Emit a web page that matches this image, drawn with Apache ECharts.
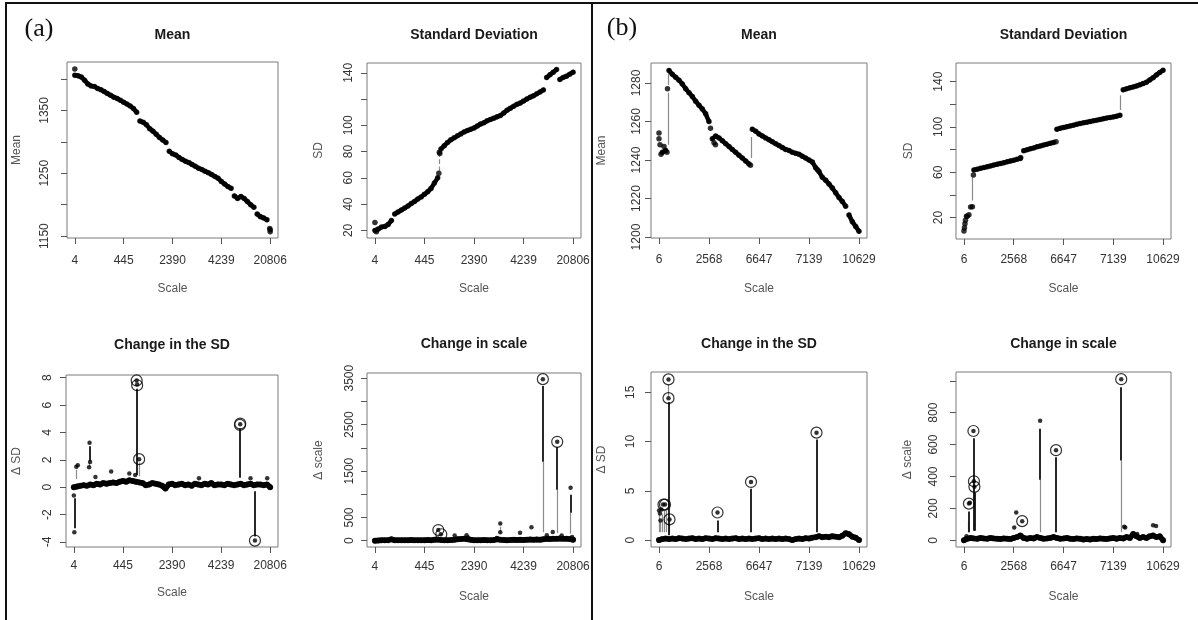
<!DOCTYPE html>
<html><head><meta charset="utf-8">
<script src="https://cdn.jsdelivr.net/npm/echarts@6/dist/echarts.min.js"></script>
<style>html,body{margin:0;padding:0;background:#fff}#c{width:1198px;height:620px}</style>
</head><body><div id="c"></div>
<script>
// ---------- tick labels ----------
const xTicksA = ['4','445','2390','4239','20806'];
const xTicksB = ['6','2568','6647','7139','10629'];
const yTicksMeanA = [1150,1200,1250,1300,1350,1400], yLabMeanA = [1150,1250,1350];
const yTicksSdA = [20,40,60,80,100,120,140], yLabSdA = [20,40,60,80,100,140];
const yTicksDSdA = [-4,-2,0,2,4,6,8], yLabDSdA = [-4,-2,0,2,4,6,8];
const yTicksDScA = [0,500,1000,1500,2000,2500,3000,3500], yLabDScA = [0,500,1500,2500,3500];
const yTicksMeanB = [1200,1220,1240,1260,1280], yLabMeanB = [1200,1220,1240,1260,1280];
const yTicksSdB = [20,40,60,80,100,120,140], yLabSdB = [20,60,100,140];
const yTicksDSdB = [0,5,10,15], yLabDSdB = [0,5,10,15];
const yTicksDScB = [0,200,400,600,800,1000], yLabDScB = [0,200,400,600,800];

// ---------- (a) data ----------
const meanA = [1406,1405,1403,1398,1392,1389,1388,1385,1383,1380,
 1377,1374,1371,1369,1366,1363,1360,1357,1353,1347,
 1333,1331,1327,1321,1317,1312,1307,1303,1299,1285,
 1281,1279,1275,1272,1269,1267,1264,1261,1258,1256,
 1253,1251,1248,1245,1242,1237,1233,1229,1226,1214,
 1210,1213,1210,1205,1200,1196,1185,1181,1179,1176,1160];
const meanAExtra = [[0,1416],[3.99,1162],[4,1157]];

const sdA = [20,21,22.5,23,24.5,27.5,32.5,34,35.5,37,
 38.5,40.5,42,44,45.5,47.5,49.5,52,56,60,
 82,84.5,87,89,90.5,92,93.5,95,96,97,
 98,99.5,101,102,103.5,104.5,105.5,106.5,107.5,109.5,
 111.5,113,114.5,116,117,118.5,120,121.5,122.5,124,
 125.5,127,136.5,138.5,140.5,142.5,135,136.5,137.5,139,140.5];
const sdAExtra = [[0,26],[0.03,19],[1.29,63.5],[1.3,79.5],[1.31,78.5]];
const sdAGap = [[1.3,65,77]];

const dSdABase = [0,0.05,0.1,0.15,0.1,0.2,0.15,0.25,0.2,0.3,
 0.25,0.3,0.35,0.3,0.4,0.45,0.4,0.5,0.45,0.4,
 0.35,0.3,0.15,0.2,0.3,0.25,0.2,0.1,-0.1,0.2,
 0.25,0.15,0.2,0.25,0.15,0.2,0.1,0.25,0.2,0.15,
 0.25,0.2,0.3,0.15,0.2,0.2,0.15,0.25,0.2,0.15,
 0.2,0.25,0.15,0.2,0.25,0.15,0.2,0.2,0.15,0.2,0];
const dSdAPts = [[0,-0.6],[0.01,-3.3],[0.05,1.5],[0.08,1.6],[0.31,1.45],[0.32,3.25],[0.33,1.85],
 [0.44,0.75],[0.76,1.15],[1.13,1.0],[1.25,0.9],[1.28,7.8],[1.29,7.5],[1.33,2.05],[2.55,0.65],
 [3.39,4.6],[3.6,0.65],[3.69,-3.9],[3.94,0.65]];
const dSdACirc = [[1.28,7.8],[1.29,7.45],[1.33,2.05],[3.39,4.65],[3.385,4.55],[3.69,-3.9]];
const dSdAStem = [[0.01,-0.8,-3.0],[0.32,1.9,3.0],[1.285,0.9,7.2],[3.39,0.7,4.3],[3.69,-0.3,-3.6]];
const dSdAFaint = [[0.05,0.6,1.3],[0.32,1.5,1.8],[1.33,0.8,1.8]];

const dScA = [0,5,10,8,12,30,10,8,12,10,
 8,15,10,12,8,10,15,12,20,25,
 15,10,12,15,20,30,35,45,30,20,
 10,12,10,15,12,10,15,30,20,15,
 10,15,20,15,20,15,20,25,20,25,
 20,30,40,35,45,40,50,40,45,35,20];
const dScAPts = [[1.28,230],[1.33,140],[1.61,110],[1.85,120],[1.88,70],[2.46,60],[2.53,370],[2.53,185],
 [2.93,170],[3.16,290],[3.39,3480],[3.47,120],[3.59,190],[3.68,2130],[3.77,110],[3.95,1140],[3.98,80]];
const dScACirc = [[1.28,230],[1.34,140],[3.39,3480],[3.68,2130]];
const dScAStem = [[3.39,1700,3330],[3.68,1100,2020],[3.95,600,990]];
const dScAFaint = [[3.39,180,1700],[3.68,160,1100],[3.95,150,600],[2.53,160,300]];

// ---------- (b) data ----------
const meanB = [1251,1244,1245,1286.5,1284.5,1283,1281.5,1279.5,1277,1275,
 1273,1270.5,1268.5,1266.5,1264,1260,1251,1252.5,1251.5,1250,
 1248.5,1247,1245.5,1244,1242.5,1241,1239.5,1238,1256,1255,
 1253.5,1252.5,1251.5,1250.5,1249.5,1248.5,1247.5,1246.5,1245.5,1245,
 1244,1243.5,1243,1242,1241,1240,1239,1236,1234,1231,
 1229.5,1227.5,1225.5,1223,1220.5,1218.5,1216,1211.5,1208,1205.5,1203];
const meanBExtra = [[0,1254],[0.02,1248],[0.04,1243],[0.1,1247],[0.16,1244],[0.17,1277],
 [1.03,1256.5],[1.1,1249],[1.13,1248],[1.83,1237.3],[3.17,1235]];
const meanBGap = [[0.175,1248,1275],[0.185,1279,1285],[1.85,1241,1252]];

const sdB = [8,21,29.2,62,62.7,63.4,64.1,64.8,65.6,66.3,
 67,67.7,68.4,69.2,69.9,70.6,71.4,72.2,79,79.8,
 80.7,81.5,82.4,83.2,84,84.8,85.5,86.3,98,98.8,
 99.5,100.2,100.9,101.6,102.3,103,103.6,104.2,104.8,105.4,
 106,106.6,107.2,107.8,108.3,108.9,109.5,110.3,132.8,133.7,
 134.6,135.4,136.2,137.2,138.3,139.5,141.5,143.5,146,148.2,150];
const sdBExtra = [[0.01,11],[0.02,14.5],[0.03,17.5],[0.05,21],[0.1,22.5],[0.17,29.5],[0.19,57.5],[1.14,73],[1.85,87]];
const sdBGap = [[0.17,35,56],[3.14,115,128]];

const dSdB = [0,0.1,0.15,0.1,0.15,0.1,0.2,0.15,0.1,0.15,
 0.2,0.1,0.15,0.1,0.2,0.15,0.1,0.2,0.15,0.1,
 0.15,0.1,0.15,0.2,0.1,0.15,0.1,0.15,0.1,0.15,
 0.2,0.1,0.15,0.1,0.15,0.1,0.15,0.1,0.15,0.1,
 0,0.1,0.15,0.1,0.2,0.15,0.25,0.3,0.4,0.3,
 0.35,0.3,0.4,0.35,0.3,0.45,0.7,0.6,0.35,0.25,0];
const dSdBPts = [[0,3.0],[0.02,2.7],[0.03,2.0],[0.05,3.1],[0.08,3.6],[0.12,3.6],[0.19,16.3],[0.19,14.4],
 [0.21,2.1],[1.17,2.8],[1.84,5.9],[3.15,10.9]];
const dSdBCirc = [[0.09,3.6],[0.12,3.6],[0.19,16.3],[0.19,14.4],[0.21,2.1],[1.17,2.8],[1.84,5.9],[3.15,10.9]];
const dSdBStem = [[0.19,0.5,14.0],[1.17,0.8,2.0],[1.84,0.8,5.2],[3.15,0.8,10.2]];
const dSdBFaint = [[0.0,0.8,2.6],[0.03,0.8,1.8],[0.06,0.8,2.6],[0.1,0.8,3.0],[0.14,0.8,3.0],[0.21,0.8,1.8],[0.19,14.6,15.8]];

const dScB = [0,10,15,12,10,15,12,10,15,12,
 10,8,12,10,8,15,20,30,15,10,
 15,12,20,15,10,12,15,20,15,10,
 12,15,10,8,12,10,5,8,5,10,
 8,12,10,8,12,15,10,15,12,20,
 15,40,25,15,20,15,25,30,20,25,0];
const dScBPts = [[0.05,25],[0.1,230],[0.12,235],[0.19,685],[0.2,370],[0.21,335],[1.01,80],[1.05,175],
 [1.17,120],[1.53,750],[1.85,565],[3.16,1010],[3.22,85],[3.24,80],[3.48,40],[3.8,95],[3.86,90]];
const dScBCirc = [[0.1,230],[0.19,685],[0.2,370],[0.21,335],[1.17,120],[1.85,565],[3.16,1010]];
const dScBStem = [[0.1,50,180],[0.19,60,640],[0.21,60,300],[1.53,380,700],[1.85,50,520],[3.16,500,960]];
const dScBFaint = [[1.53,50,380],[3.16,50,500],[0.08,50,120]];

// ---------- helpers ----------
const FONT = '"Liberation Sans", Arial, Helvetica, sans-serif';
function idx(arr){ const n = arr.length; return arr.map((v,i)=>[i*4/(n-1), v]); }
// break a polyline where consecutive values jump more than `brk` (data discontinuity)
function broken(pts, brk){
  const out = [];
  pts.forEach((p,i)=>{
    if (i>0 && Math.abs(p[1]-pts[i-1][1]) > brk) out.push([(p[0]+pts[i-1][0])/2, '-']);
    out.push(p);
  });
  return out;
}

const panels = [
 {title:'Mean', box:[67,62,211,176], y:[1147,1427], yt:yTicksMeanA, yl:yLabMeanA, yName:'Mean', xl:xTicksA, yM:16, xM:17, ng:45, yng:44, ty:35,
  curve:idx(meanA), brk:9, extra:meanAExtra, ds:5.5},
 {title:'Standard Deviation', box:[367,63,214,175], y:[14.2,147.5], yt:yTicksSdA, yl:yLabSdA, yName:'SD', xl:xTicksA, yM:12, xM:17, ng:45, yng:42, ty:35,
  curve:idx(sdA), brk:4.5, extra:sdAExtra, ds:5.5, gaps:sdAGap, gapDash:true},
 {title:'Change in the SD', box:[66,375,212,172], y:[-4.37,8.2], yt:yTicksDSdA, yl:yLabDSdA, yName:'\u0394 SD', xl:xTicksA, yM:12, xM:13, ng:40, yng:43, ty:345,
  base:idx(dSdABase), extra:dSdAPts, ds:4.5, circ:dSdACirc, stems:dSdAStem, faint:dSdAFaint},
 {title:'Change in scale', box:[367,373,214,174], y:[-135,3612], yt:yTicksDScA, yl:yLabDScA, yName:'\u0394 scale', xl:xTicksA, yM:11, xM:14, ng:44, yng:42, ty:344,
  base:idx(dScA), extra:dScAPts, ds:4.5, circ:dScACirc, stems:dScAStem, faint:dScAFaint},
 {title:'Mean', box:[651,63,216,175], y:[1199.5,1290.4], yt:yTicksMeanB, yl:yLabMeanB, yName:'Mean', xl:xTicksB, yM:8, xM:16, ng:45, yng:43, ty:35,
  curve:idx(meanB), brk:4.2, extra:meanBExtra, ds:5.5, gaps:meanBGap},
 {title:'Standard Deviation', box:[956,63,215,176], y:[1,156.5], yt:yTicksSdB, yl:yLabSdB, yName:'SD', xl:xTicksB, yM:11, xM:15, ng:44, yng:41, ty:35,
  curve:idx(sdB), brk:3, extra:sdBExtra, ds:5.5, gaps:sdBGap},
 {title:'Change in the SD', box:[651,372,216,175], y:[-0.7,17.05], yt:yTicksDSdB, yl:yLabDSdB, yName:'\u0394 SD', xl:xTicksB, yM:14, xM:14, ng:44, yng:43, ty:344,
  base:idx(dSdB), extra:dSdBPts, ds:4.5, circ:dSdBCirc, stems:dSdBStem, faint:dSdBFaint},
 {title:'Change in scale', box:[956,372,215,175], y:[-42,1055], yt:yTicksDScB, yl:yLabDScB, yName:'\u0394 scale', xl:xTicksB, yM:16, xM:14, ng:44, yng:42, ty:344,
  base:idx(dScB), extra:dScBPts, ds:4.5, circ:dScBCirc, stems:dScBStem, faint:dScBFaint}
];

const grids = [], xAxes = [], yAxes = [], series = [], graphics = [];
function segs(list){ return list.map(s=>({coords:[[s[0],s[1]],[s[0],s[2]]]})); }
function linesSeries(k, list, color, width, dashed){
  return {type:'lines', coordinateSystem:'cartesian2d', xAxisIndex:k, yAxisIndex:k, polyline:false,
    data:segs(list), silent:true, animation:false, z:2,
    lineStyle:{color:color, width:width, opacity:1, type: dashed?'dashed':'solid'}};
}
function thickLine(k, data, width){
  return {type:'line', xAxisIndex:k, yAxisIndex:k, data:data, symbol:'none', showSymbol:false, connectNulls:false,
    lineStyle:{color:'#000', width:width, cap:'round', join:'round'}, silent:true, animation:false, z:3};
}
function dots(k, data, size, z){
  return {type:'scatter', xAxisIndex:k, yAxisIndex:k, data:data, symbolSize:size,
    itemStyle:{color:'#000'}, silent:true, animation:false, z:z};
}
panels.forEach((p,k)=>{
  grids.push({left:p.box[0], top:p.box[1], width:p.box[2], height:p.box[3], show:true,
    borderColor:'#7a7a7a', borderWidth:1, backgroundColor:'transparent', containLabel:false, outerBoundsMode:'none'});
  xAxes.push({type:'value', gridIndex:k, min:-0.16, max:4.16,
    axisLine:{show:false, onZero:false}, splitLine:{show:false},
    axisTick:{show:true, length:6, lineStyle:{color:'#555'}, customValues:[0,1,2,3,4]},
    axisLabel:{customValues:[0,1,2,3,4], formatter:v=>p.xl[Math.round(v)], margin:p.xM, color:'#333', fontSize:12, fontFamily:FONT},
    name:'Scale', nameLocation:'middle', nameGap:p.ng, nameTextStyle:{color:'#555', fontSize:12, fontFamily:FONT}});
  yAxes.push({type:'value', gridIndex:k, min:p.y[0], max:p.y[1],
    axisLine:{show:false, onZero:false}, splitLine:{show:false},
    axisTick:{show:true, length:6, lineStyle:{color:'#555'}, customValues:p.yt},
    axisLabel:{customValues:p.yl, formatter:v=>String(v), rotate:90, margin:p.yM, color:'#333', fontSize:12, fontFamily:FONT},
    name:p.yName, nameLocation:'middle', nameRotate:90, nameGap:p.yng, nameTextStyle:{color:'#555', fontSize:12, fontFamily:FONT}});
  if (p.gaps) series.push(linesSeries(k, p.gaps, '#8a8a8a', 1.2, p.gapDash));
  if (p.faint) series.push(linesSeries(k, p.faint, '#8c8c8c', 1.2));
  if (p.stems) series.push(linesSeries(k, p.stems, '#111', 1.8));
  if (p.base) { series.push(thickLine(k, p.base, 5.5)); series.push(dots(k, p.base, 6, 3)); }
  if (p.curve) { series.push(thickLine(k, broken(p.curve, p.brk), 4.5)); series.push(dots(k, p.curve, p.ds, 4)); }
  if (p.extra) series.push(dots(k, p.extra, p.ds, 4));
  if (p.circ) series.push({type:'scatter', xAxisIndex:k, yAxisIndex:k, data:p.circ, symbolSize:11,
    itemStyle:{color:'rgba(0,0,0,0)', borderColor:'#000', borderWidth:1.2}, silent:true, animation:false, z:5});
  graphics.push({type:'text', x:p.box[0]+p.box[2]/2, y:p.ty, style:{text:p.title, fill:'#1a1a1a',
    font:'bold 14px '+FONT, textAlign:'center', textVerticalAlign:'middle'}});
});
// frame lines
graphics.push({type:'line', shape:{x1:5,y1:3,x2:1198,y2:3}, style:{stroke:'#111', lineWidth:2}});
graphics.push({type:'line', shape:{x1:6,y1:3,x2:6,y2:620}, style:{stroke:'#111', lineWidth:2}});
graphics.push({type:'line', shape:{x1:592,y1:3,x2:592,y2:620}, style:{stroke:'#111', lineWidth:2}});
graphics.push({type:'text', x:39, y:29, style:{text:'(a)', fill:'#111', font:'26px "Liberation Serif", "DejaVu Serif", serif', textAlign:'center', textVerticalAlign:'middle'}});
graphics.push({type:'text', x:622, y:28, style:{text:'(b)', fill:'#111', font:'26px "Liberation Serif", "DejaVu Serif", serif', textAlign:'center', textVerticalAlign:'middle'}});

const chart = echarts.init(document.getElementById('c'), null, {renderer:'canvas'});
chart.setOption({backgroundColor:'#fff', animation:false, grid:grids, xAxis:xAxes, yAxis:yAxes, series:series, graphic:graphics});
</script></body></html>
